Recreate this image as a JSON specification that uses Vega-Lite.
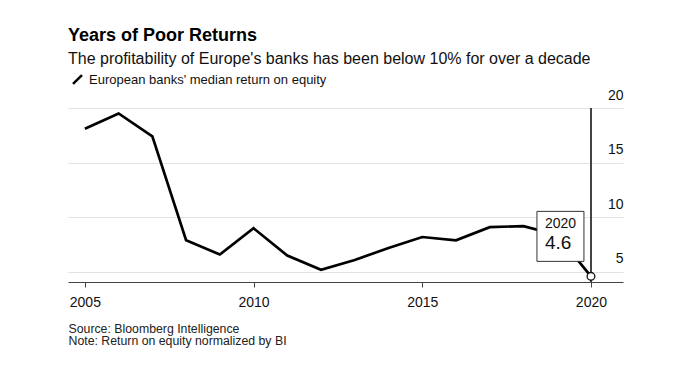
{
  "$schema": "https://vega.github.io/schema/vega-lite/v6.json",
  "width": 555,
  "height": 174,
  "autosize": "none",
  "padding": {"left": 68, "top": 108, "right": 57, "bottom": 83},
  "background": "white",
  "config": {
    "font": "Liberation Sans",
    "view": {"stroke": null}
  },
  "title": {
    "text": "Years of Poor Returns",
    "subtitle": "The profitability of Europe's banks has been below 10% for over a decade",
    "anchor": "start",
    "frame": "group",
    "fontSize": 18,
    "fontWeight": "bold",
    "color": "#000",
    "subtitleFontSize": 16,
    "subtitleColor": "#111",
    "subtitlePadding": 6,
    "offset": 6
  },
  "data": {
    "values": [
      {"year": 2005, "value": 18.1, "series": "European banks' median return on equity"},
      {"year": 2006, "value": 19.5, "series": "European banks' median return on equity"},
      {"year": 2007, "value": 17.4, "series": "European banks' median return on equity"},
      {"year": 2008, "value": 7.9, "series": "European banks' median return on equity"},
      {"year": 2009, "value": 6.6, "series": "European banks' median return on equity"},
      {"year": 2010, "value": 9.0, "series": "European banks' median return on equity"},
      {"year": 2011, "value": 6.5, "series": "European banks' median return on equity"},
      {"year": 2012, "value": 5.2, "series": "European banks' median return on equity"},
      {"year": 2013, "value": 6.1, "series": "European banks' median return on equity"},
      {"year": 2014, "value": 7.2, "series": "European banks' median return on equity"},
      {"year": 2015, "value": 8.2, "series": "European banks' median return on equity"},
      {"year": 2016, "value": 7.9, "series": "European banks' median return on equity"},
      {"year": 2017, "value": 9.1, "series": "European banks' median return on equity"},
      {"year": 2018, "value": 9.2, "series": "European banks' median return on equity"},
      {"year": 2019, "value": 8.4, "series": "European banks' median return on equity"},
      {"year": 2020, "value": 4.6, "series": "European banks' median return on equity"}
    ]
  },
  "encoding": {
    "x": {
      "field": "year",
      "type": "quantitative",
      "scale": {"domain": [2004.5, 2020.95], "nice": false, "zero": false},
      "axis": {
        "values": [2005, 2010, 2015, 2020],
        "format": "d",
        "grid": false,
        "domainColor": "#444",
        "domainWidth": 1,
        "tickColor": "#444",
        "tickSize": 5,
        "labelFontSize": 14,
        "labelColor": "#111",
        "labelBaseline": "alphabetic",
        "labelPadding": 19,
        "title": ["Source: Bloomberg Intelligence", "Note: Return on equity normalized by BI"],
        "titleFontSize": 12.3,
        "titleFontWeight": "normal",
        "titleColor": "#222",
        "titleLineHeight": 12.7,
        "titleAnchor": "start",
        "titleAlign": "left",
        "titleBaseline": "alphabetic",
        "titleX": 0,
        "titleY": 50
      }
    },
    "y": {
      "field": "value",
      "type": "quantitative",
      "scale": {"domain": [4.085, 20], "nice": false, "zero": false},
      "axis": {
        "orient": "right",
        "values": [5, 10, 15, 20],
        "grid": true,
        "gridColor": "#e2e2e2",
        "gridWidth": 1,
        "domain": false,
        "ticks": false,
        "tickSize": 0,
        "labelPadding": 0,
        "labelAlign": "right",
        "labelBaseline": "alphabetic",
        "labelOffset": -9,
        "labelFontSize": 14,
        "labelColor": "#111",
        "title": null
      }
    }
  },
  "layer": [
    {
      "mark": {"type": "line", "strokeWidth": 2.7, "strokeJoin": "miter", "strokeCap": "butt"},
      "encoding": {
        "color": {
          "field": "series",
          "type": "nominal",
          "scale": {"range": ["#000"]},
          "legend": {
            "orient": "none",
            "legendX": 3,
            "legendY": -35,
            "title": null,
            "padding": 0,
            "symbolType": "M-1,1L1,-1",
            "symbolSize": 80,
            "symbolStrokeWidth": 2.5,
            "labelFontSize": 13,
            "labelColor": "#111",
            "labelOffset": 5,
            "labelLimit": 0
          }
        }
      }
    },
    {
      "mark": {"type": "rule", "color": "#444", "strokeWidth": 1.4},
      "encoding": {"x": {"datum": 2020, "type": "quantitative"}, "y": null}
    },
    {
      "transform": [{"filter": "datum.year == 2020"}],
      "mark": {
        "type": "point",
        "shape": "M-0.94,-1H0.94V1H-0.94Z",
        "size": 2500,
        "filled": true,
        "fill": "white",
        "stroke": "#333",
        "strokeWidth": 1,
        "opacity": 1,
        "xOffset": -30.5,
        "yOffset": -40
      }
    },
    {
      "transform": [{"filter": "datum.year == 2020"}],
      "mark": {"type": "text", "align": "left", "baseline": "alphabetic", "dx": -46, "dy": -48, "fontSize": 14, "color": "#111"},
      "encoding": {"text": {"field": "year", "type": "nominal"}}
    },
    {
      "transform": [{"filter": "datum.year == 2020"}],
      "mark": {"type": "text", "align": "left", "baseline": "alphabetic", "dx": -46, "dy": -27, "fontSize": 19, "color": "#111"},
      "encoding": {"text": {"field": "value", "type": "quantitative", "format": ".1f"}}
    },
    {
      "transform": [{"filter": "datum.year == 2020"}],
      "mark": {"type": "point", "filled": true, "fill": "white", "stroke": "#111", "strokeWidth": 1.3, "size": 60, "opacity": 1}
    }
  ]
}
